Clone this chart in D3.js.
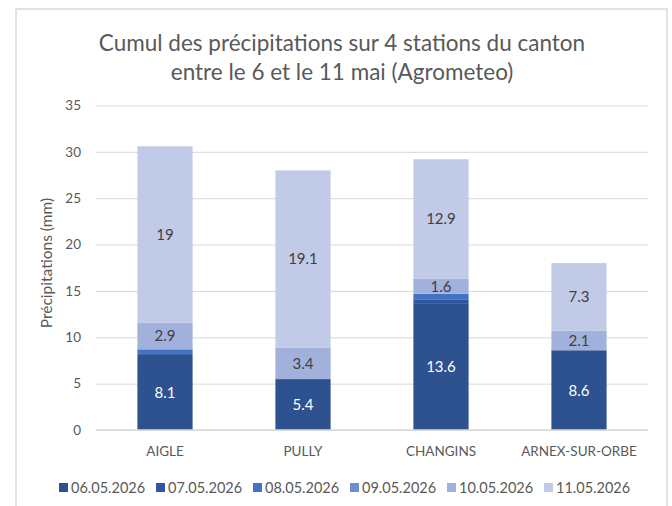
<!DOCTYPE html>
<html>
<head>
<meta charset="utf-8">
<script src="https://cdn.jsdelivr.net/npm/d3@7"></script>
<style>
  html, body { margin: 0; padding: 0; background: #fff; }
  svg { display: block; font-family: Lato, "Open Sans", sans-serif; }
</style>
</head>
<body>
<svg id="chart" width="672" height="506"></svg>
<script>
const titleLines = ["Cumul des précipitations sur 4 stations du canton", "entre le 6 et le 11 mai (Agrometeo)"];
const yAxisTitle = "Précipitations (mm)";
const stations = ["AIGLE", "PULLY", "CHANGINS", "ARNEX-SUR-ORBE"];
const seriesNames = ["06.05.2026", "07.05.2026", "08.05.2026", "09.05.2026", "10.05.2026", "11.05.2026"];
const d0605 = [8.1, 5.4, 13.6, 8.6];
const d0705 = [0.1, 0.1, 0.5, 0.0];
const d0805 = [0.5, 0.0, 0.6, 0.0];
const d0905 = [0.0, 0.0, 0.0, 0.0];
const d1005 = [2.9, 3.4, 1.6, 2.1];
const d1105 = [19, 19.1, 12.9, 7.3];
const yTicks = [0, 5, 10, 15, 20, 25, 30, 35];
const seriesColors = ["#2E5190", "#3157A0", "#4472C4", "#6D8ED0", "#A2B1DC", "#C1CAE6"];

const seriesValues = [d0605, d0705, d0805, d0905, d1005, d1105];
const table = stations.map((s, i) => {
  const row = { station: s };
  seriesNames.forEach((n, j) => row[n] = seriesValues[j][i]);
  return row;
});
const stacked = d3.stack().keys(seriesNames)(table);

const svg = d3.select("#chart");
// frame
svg.append("rect").attr("x", 16).attr("y", 9).attr("width", 651).attr("height", 510)
  .attr("fill", "#fff").attr("stroke", "#d9d9d9").attr("stroke-width", 1.5);

const x = d3.scaleBand().domain(stations).range([96, 648]).paddingInner(0.6).paddingOuter(0.3);
const y = d3.scaleLinear().domain([0, 35]).range([430, 105.5]);

// title
const title = svg.append("text").attr("text-anchor", "middle").attr("fill", "#595959")
  .attr("font-size", 22.5);
titleLines.forEach((t, i) => {
  title.append("tspan").attr("x", 342).attr("y", 51 + i * 29).text(t);
});

// gridlines
const yAxis = d3.axisLeft(y).tickValues(yTicks).tickSize(-(648 - 96)).tickPadding(15);
const gy = svg.append("g").attr("transform", "translate(96,0)").call(yAxis);
gy.select(".domain").remove();
gy.selectAll(".tick line").attr("stroke", "#d9d9d9").attr("stroke-width", 1);
gy.selectAll(".tick text").attr("fill", "#595959").attr("font-size", 13.5)
  .attr("font-family", "Lato, 'Open Sans', sans-serif");

// y axis title
svg.append("text").attr("transform", "translate(52,263) rotate(-90)")
  .attr("text-anchor", "middle").attr("fill", "#595959").attr("font-size", 15.5)
  .text(yAxisTitle);

// bars
const groups = svg.append("g").selectAll("g").data(stacked).join("g")
  .attr("fill", (d, i) => seriesColors[i]);
groups.selectAll("rect").data(d => d).join("rect")
  .attr("x", d => x(d.data.station))
  .attr("width", x.bandwidth())
  .attr("y", d => y(d[1]))
  .attr("height", d => Math.max(0, y(d[0]) - y(d[1])));

// labels
const labelLayer = svg.append("g");
stacked.forEach((layer, i) => {
  layer.forEach(d => {
    const v = d[1] - d[0];
    if (v >= 1) {
      labelLayer.append("text")
        .attr("x", x(d.data.station) + x.bandwidth() / 2)
        .attr("y", (y(d[0]) + y(d[1])) / 2)
        .attr("dy", "0.36em")
        .attr("text-anchor", "middle")
        .attr("font-size", 15)
        .attr("fill", i === 0 ? "#ffffff" : "#404040")
        .text(d3.format("~g")(Math.round(v * 10) / 10));
    }
  });
});

// baseline
svg.append("line").attr("x1", 96).attr("x2", 648).attr("y1", y(0)).attr("y2", y(0))
  .attr("stroke", "#d9d9d9").attr("stroke-width", 1.5);

// x axis labels
const xAxis = d3.axisBottom(x).tickSize(0).tickPadding(16);
const gx = svg.append("g").attr("transform", `translate(0,${y(0)})`).call(xAxis);
gx.select(".domain").remove();
gx.selectAll(".tick text").attr("fill", "#595959").attr("font-size", 13.5)
  .attr("font-family", "Lato, 'Open Sans', sans-serif");

// legend
const legend = svg.append("g");
seriesNames.forEach((n, i) => {
  const lx = 59 + i * 97;
  legend.append("rect").attr("x", lx).attr("y", 483).attr("width", 9).attr("height", 9)
    .attr("fill", seriesColors[i]);
  legend.append("text").attr("x", lx + 12).attr("y", 488).attr("dy", "0.36em")
    .attr("fill", "#595959").attr("font-size", 14.5).text(n);
});
</script>
</body>
</html>
